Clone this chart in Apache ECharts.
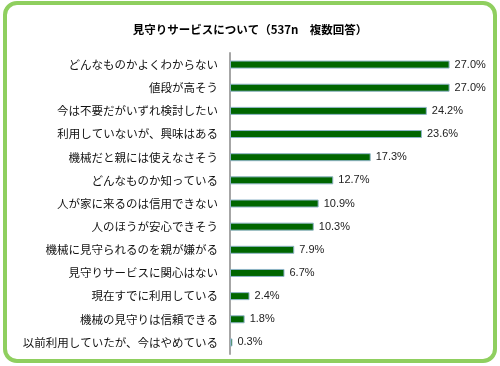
<!DOCTYPE html>
<html>
<head>
<meta charset="utf-8">
<script src="https://cdn.jsdelivr.net/npm/echarts@6/dist/echarts.min.js"></script>
<style>
html,body{margin:0;padding:0;background:#fff;}
#chart{width:500px;height:366px;}
</style>
</head>
<body>
<div id="chart"></div>
<script>
const titleText = '見守りサービスについて（537n　複数回答）';
const categories = [
  'どんなものかよくわからない',
  '値段が高そう',
  '今は不要だがいずれ検討したい',
  '利用していないが、興味はある',
  '機械だと親には使えなさそう',
  'どんなものか知っている',
  '人が家に来るのは信用できない',
  '人のほうが安心できそう',
  '機械に見守られるのを親が嫌がる',
  '見守りサービスに関心はない',
  '現在すでに利用している',
  '機械の見守りは信頼できる',
  '以前利用していたが、今はやめている'
];
const values = [27.0, 27.0, 24.2, 23.6, 17.3, 12.7, 10.9, 10.3, 7.9, 6.7, 2.4, 1.8, 0.3];

const chart = echarts.init(document.getElementById('chart'), null, {renderer: 'canvas'});
chart.setOption({
  animation: false,
  backgroundColor: '#ffffff',
  graphic: [{
    type: 'rect',
    shape: {x: 5, y: 3, width: 490, height: 358, r: 12},
    style: {fill: 'none', stroke: '#8fcf5f', lineWidth: 4},
    z: 0
  }],
  title: {
    text: titleText,
    left: 'center',
    top: 19,
    textStyle: {
      fontFamily: '"Noto Sans CJK JP", sans-serif',
      fontSize: 11.5,
      fontWeight: 'bold',
      color: '#000'
    }
  },
  grid: {left: 230, width: 244, top: 53, bottom: 12, containLabel: false},
  xAxis: {
    type: 'value', min: 0, max: 30, show: false
  },
  yAxis: {
    type: 'category',
    data: categories,
    inverse: true,
    axisLine: {show: true, lineStyle: {color: '#a6a6a6', width: 2}},
    axisTick: {show: false},
    axisLabel: {
      margin: 12,
      fontFamily: '"Noto Sans CJK JP", sans-serif',
      fontSize: 11.5,
      color: '#111'
    }
  },
  series: [{
    type: 'bar',
    data: values,
    barWidth: 8,
    itemStyle: {color: '#006600', borderColor: '#8fb4c8', borderWidth: 1},
    label: {
      show: true,
      position: 'right',
      distance: 5,
      formatter: p => p.value.toFixed(1) + '%',
      fontFamily: '"Liberation Sans", sans-serif',
      fontSize: 11,
      color: '#222'
    }
  }]
});
</script>
</body>
</html>
